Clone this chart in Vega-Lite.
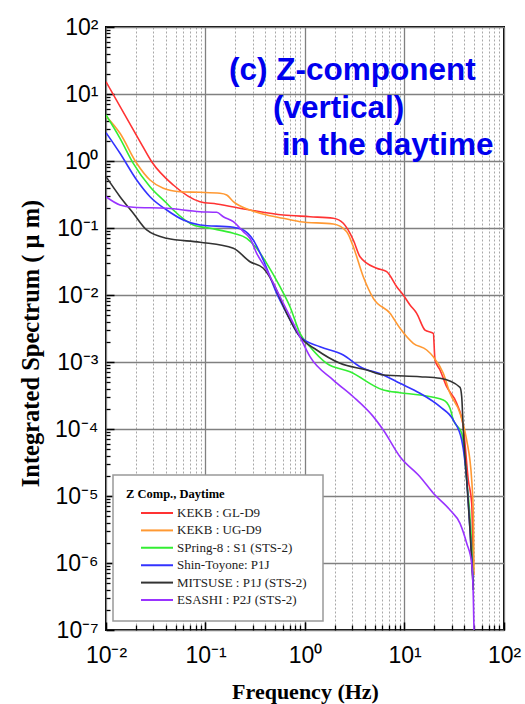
{
  "$schema": "https://vega.github.io/schema/vega-lite/v6.json",
  "width": 398,
  "height": 603,
  "autosize": {"type": "none"},
  "padding": {"left": 106, "top": 27, "right": 21, "bottom": 74},
  "background": "white",
  "config": {"view": {"stroke": "#000", "strokeWidth": 2}, "legend": {"strokeWidth": 1.5}},
  "resolve": {"axis": {"x": "independent", "y": "independent"}},
  "layer": [
    {
      "data": {"values": [
        {"s":"KEKB : GL-D9","f":0.01,"v":15.26},{"s":"KEKB : GL-D9","f":0.02197,"v":1.95},{"s":"KEKB : GL-D9","f":0.02878,"v":0.976},{"s":"KEKB : GL-D9","f":0.04747,"v":0.438},{"s":"KEKB : GL-D9","f":0.08806,"v":0.2469},{"s":"KEKB : GL-D9","f":0.1296,"v":0.2281},{"s":"KEKB : GL-D9","f":0.28,"v":0.1856},{"s":"KEKB : GL-D9","f":0.6052,"v":0.1563},{"s":"KEKB : GL-D9","f":1.123,"v":0.1475},{"s":"KEKB : GL-D9","f":1.925,"v":0.1396},{"s":"KEKB : GL-D9","f":2.426,"v":0.1175},{"s":"KEKB : GL-D9","f":3.058,"v":0.0662},{"s":"KEKB : GL-D9","f":3.572,"v":0.0373},{"s":"KEKB : GL-D9","f":5.256,"v":0.02503},{"s":"KEKB : GL-D9","f":6.624,"v":0.02227},{"s":"KEKB : GL-D9","f":8.35,"v":0.0133},{"s":"KEKB : GL-D9","f":9.725,"v":0.01},{"s":"KEKB : GL-D9","f":11.36,"v":0.0071},{"s":"KEKB : GL-D9","f":13.26,"v":0.00533},{"s":"KEKB : GL-D9","f":16.07,"v":0.003},{"s":"KEKB : GL-D9","f":19.48,"v":0.00268},{"s":"KEKB : GL-D9","f":20.26,"v":0.001071},{"s":"KEKB : GL-D9","f":22.74,"v":0.00076},{"s":"KEKB : GL-D9","f":26.55,"v":0.000428},{"s":"KEKB : GL-D9","f":33.47,"v":0.000242},{"s":"KEKB : GL-D9","f":38.99,"v":0.000108},{"s":"KEKB : GL-D9","f":43.77,"v":1.73e-5},{"s":"KEKB : GL-D9","f":47.35,"v":7.78e-6},{"s":"KEKB : GL-D9","f":49.14,"v":7.86e-7},

        {"s":"KEKB : UG-D9","f":0.01,"v":4.7},{"s":"KEKB : UG-D9","f":0.01383,"v":2.591},{"s":"KEKB : UG-D9","f":0.02034,"v":0.924},{"s":"KEKB : UG-D9","f":0.02768,"v":0.52},{"s":"KEKB : UG-D9","f":0.03767,"v":0.3914},{"s":"KEKB : UG-D9","f":0.05543,"v":0.348},{"s":"KEKB : UG-D9","f":0.08806,"v":0.341},{"s":"KEKB : UG-D9","f":0.1398,"v":0.3296},{"s":"KEKB : UG-D9","f":0.1633,"v":0.311},{"s":"KEKB : UG-D9","f":0.1903,"v":0.2469},{"s":"KEKB : UG-D9","f":0.28,"v":0.1856},{"s":"KEKB : UG-D9","f":0.4122,"v":0.1563},{"s":"KEKB : UG-D9","f":0.6052,"v":0.1396},{"s":"KEKB : UG-D9","f":0.8906,"v":0.1242},{"s":"KEKB : UG-D9","f":1.925,"v":0.1147},{"s":"KEKB : UG-D9","f":2.625,"v":0.0881},{"s":"KEKB : UG-D9","f":3.058,"v":0.0526},{"s":"KEKB : UG-D9","f":3.853,"v":0.01875},{"s":"KEKB : UG-D9","f":4.859,"v":0.00893},{"s":"KEKB : UG-D9","f":7.151,"v":0.00533},{"s":"KEKB : UG-D9","f":9.012,"v":0.00318},{"s":"KEKB : UG-D9","f":12.26,"v":0.0019},{"s":"KEKB : UG-D9","f":16.71,"v":0.00151},{"s":"KEKB : UG-D9","f":19.48,"v":0.0012},{"s":"KEKB : UG-D9","f":24.54,"v":0.000678},{"s":"KEKB : UG-D9","f":28.66,"v":0.000341},{"s":"KEKB : UG-D9","f":36.13,"v":0.000172},{"s":"KEKB : UG-D9","f":42.18,"v":6.85e-5},{"s":"KEKB : UG-D9","f":47.35,"v":1.73e-5},{"s":"KEKB : UG-D9","f":49.14,"v":5.52e-6},{"s":"KEKB : UG-D9","f":49.94,"v":6.62e-7},

        {"s":"SPring-8 : S1 (STS-2)","f":0.01,"v":4.86},{"s":"SPring-8 : S1 (STS-2)","f":0.01383,"v":2.182},{"s":"SPring-8 : S1 (STS-2)","f":0.0188,"v":0.924},{"s":"SPring-8 : S1 (STS-2)","f":0.02768,"v":0.4135},{"s":"SPring-8 : S1 (STS-2)","f":0.04074,"v":0.2337},{"s":"SPring-8 : S1 (STS-2)","f":0.04747,"v":0.1856},{"s":"SPring-8 : S1 (STS-2)","f":0.0754,"v":0.1109},{"s":"SPring-8 : S1 (STS-2)","f":0.111,"v":0.099},{"s":"SPring-8 : S1 (STS-2)","f":0.1903,"v":0.0834},{"s":"SPring-8 : S1 (STS-2)","f":0.2595,"v":0.0702},{"s":"SPring-8 : S1 (STS-2)","f":0.3269,"v":0.0498},{"s":"SPring-8 : S1 (STS-2)","f":0.4122,"v":0.0297},{"s":"SPring-8 : S1 (STS-2)","f":0.5607,"v":0.0133},{"s":"SPring-8 : S1 (STS-2)","f":0.7066,"v":0.00669},{"s":"SPring-8 : S1 (STS-2)","f":0.8906,"v":0.00268},{"s":"SPring-8 : S1 (STS-2)","f":1.123,"v":0.00169},{"s":"SPring-8 : S1 (STS-2)","f":1.652,"v":0.000956},{"s":"SPring-8 : S1 (STS-2)","f":2.834,"v":0.000716},{"s":"SPring-8 : S1 (STS-2)","f":6.123,"v":0.000382},{"s":"SPring-8 : S1 (STS-2)","f":9.012,"v":0.000348},{"s":"SPring-8 : S1 (STS-2)","f":14.31,"v":0.000322},{"s":"SPring-8 : S1 (STS-2)","f":24.54,"v":0.000271},{"s":"SPring-8 : S1 (STS-2)","f":28.66,"v":0.000204},{"s":"SPring-8 : S1 (STS-2)","f":30.94,"v":0.000136},{"s":"SPring-8 : S1 (STS-2)","f":37.58,"v":8.62e-5},{"s":"SPring-8 : S1 (STS-2)","f":42.18,"v":1.73e-5},{"s":"SPring-8 : S1 (STS-2)","f":47.35,"v":1.75e-6},{"s":"SPring-8 : S1 (STS-2)","f":49.14,"v":3.95e-7},

        {"s":"Shin-Toyone: P1J","f":0.01,"v":2.646},{"s":"Shin-Toyone: P1J","f":0.01383,"v":1.303},{"s":"Shin-Toyone: P1J","f":0.02034,"v":0.52},{"s":"Shin-Toyone: P1J","f":0.02768,"v":0.2932},{"s":"Shin-Toyone: P1J","f":0.04074,"v":0.1856},{"s":"Shin-Toyone: P1J","f":0.05984,"v":0.1317},{"s":"Shin-Toyone: P1J","f":0.08806,"v":0.1109},{"s":"Shin-Toyone: P1J","f":0.1903,"v":0.1024},{"s":"Shin-Toyone: P1J","f":0.2398,"v":0.0934},{"s":"Shin-Toyone: P1J","f":0.3022,"v":0.0662},{"s":"Shin-Toyone: P1J","f":0.3809,"v":0.0333},{"s":"Shin-Toyone: P1J","f":0.5195,"v":0.0106},{"s":"Shin-Toyone: P1J","f":0.6548,"v":0.00533},{"s":"Shin-Toyone: P1J","f":0.8906,"v":0.00238},{"s":"Shin-Toyone: P1J","f":1.415,"v":0.00169},{"s":"Shin-Toyone: P1J","f":2.426,"v":0.001273},{"s":"Shin-Toyone: P1J","f":3.572,"v":0.000851},{"s":"Shin-Toyone: P1J","f":6.123,"v":0.00064},{"s":"Shin-Toyone: P1J","f":9.012,"v":0.000481},{"s":"Shin-Toyone: P1J","f":14.31,"v":0.000341},{"s":"Shin-Toyone: P1J","f":22.74,"v":0.000215},{"s":"Shin-Toyone: P1J","f":30.94,"v":0.000136},{"s":"Shin-Toyone: P1J","f":37.58,"v":6.85e-5},{"s":"Shin-Toyone: P1J","f":42.18,"v":1.73e-5},{"s":"Shin-Toyone: P1J","f":45.53,"v":3.11e-6},{"s":"Shin-Toyone: P1J","f":49.14,"v":4.69e-7},

        {"s":"MITSUSE  : P1J (STS-2)","f":0.01,"v":0.583},{"s":"MITSUSE  : P1J (STS-2)","f":0.01383,"v":0.2932},{"s":"MITSUSE  : P1J (STS-2)","f":0.0188,"v":0.1658},{"s":"MITSUSE  : P1J (STS-2)","f":0.02565,"v":0.0934},{"s":"MITSUSE  : P1J (STS-2)","f":0.04074,"v":0.0702},{"s":"MITSUSE  : P1J (STS-2)","f":0.08806,"v":0.0614},{"s":"MITSUSE  : P1J (STS-2)","f":0.1903,"v":0.0498},{"s":"MITSUSE  : P1J (STS-2)","f":0.28,"v":0.0314},{"s":"MITSUSE  : P1J (STS-2)","f":0.3809,"v":0.02503},{"s":"MITSUSE  : P1J (STS-2)","f":0.4801,"v":0.01495},{"s":"MITSUSE  : P1J (STS-2)","f":0.6548,"v":0.00533},{"s":"MITSUSE  : P1J (STS-2)","f":0.8906,"v":0.00238},{"s":"MITSUSE  : P1J (STS-2)","f":1.311,"v":0.00151},{"s":"MITSUSE  : P1J (STS-2)","f":2.248,"v":0.000956},{"s":"MITSUSE  : P1J (STS-2)","f":4.17,"v":0.00076},{"s":"MITSUSE  : P1J (STS-2)","f":6.123,"v":0.00064},{"s":"MITSUSE  : P1J (STS-2)","f":14.31,"v":0.000603},{"s":"MITSUSE  : P1J (STS-2)","f":22.74,"v":0.000571},{"s":"MITSUSE  : P1J (STS-2)","f":36.13,"v":0.000419},{"s":"MITSUSE  : P1J (STS-2)","f":37.58,"v":0.000303},{"s":"MITSUSE  : P1J (STS-2)","f":38.99,"v":9.66e-5},{"s":"MITSUSE  : P1J (STS-2)","f":42.18,"v":1.73e-5},{"s":"MITSUSE  : P1J (STS-2)","f":45.53,"v":3.11e-6},{"s":"MITSUSE  : P1J (STS-2)","f":49.14,"v":3.95e-7},

        {"s":"ESASHI : P2J (STS-2)","f":0.01,"v":0.2932},{"s":"ESASHI : P2J (STS-2)","f":0.01383,"v":0.2204},{"s":"ESASHI : P2J (STS-2)","f":0.0188,"v":0.2037},{"s":"ESASHI : P2J (STS-2)","f":0.04074,"v":0.1968},{"s":"ESASHI : P2J (STS-2)","f":0.08806,"v":0.1751},{"s":"ESASHI : P2J (STS-2)","f":0.1296,"v":0.1715},{"s":"ESASHI : P2J (STS-2)","f":0.151,"v":0.1475},{"s":"ESASHI : P2J (STS-2)","f":0.1903,"v":0.1242},{"s":"ESASHI : P2J (STS-2)","f":0.2398,"v":0.0881},{"s":"ESASHI : P2J (STS-2)","f":0.28,"v":0.0702},{"s":"ESASHI : P2J (STS-2)","f":0.3269,"v":0.0419},{"s":"ESASHI : P2J (STS-2)","f":0.4122,"v":0.0236},{"s":"ESASHI : P2J (STS-2)","f":0.5195,"v":0.01187},{"s":"ESASHI : P2J (STS-2)","f":0.6548,"v":0.00597},{"s":"ESASHI : P2J (STS-2)","f":0.8906,"v":0.00238},{"s":"ESASHI : P2J (STS-2)","f":1.123,"v":0.0012},{"s":"ESASHI : P2J (STS-2)","f":1.925,"v":0.000538},{"s":"ESASHI : P2J (STS-2)","f":3.058,"v":0.000303},{"s":"ESASHI : P2J (STS-2)","f":4.859,"v":0.000153},{"s":"ESASHI : P2J (STS-2)","f":6.123,"v":9.66e-5},{"s":"ESASHI : P2J (STS-2)","f":9.012,"v":3.86e-5},{"s":"ESASHI : P2J (STS-2)","f":14.31,"v":1.94e-5},{"s":"ESASHI : P2J (STS-2)","f":19.48,"v":1.1e-5},{"s":"ESASHI : P2J (STS-2)","f":28.66,"v":6.18e-6},{"s":"ESASHI : P2J (STS-2)","f":36.13,"v":3.91e-6},{"s":"ESASHI : P2J (STS-2)","f":42.18,"v":1.97e-6},{"s":"ESASHI : P2J (STS-2)","f":47.35,"v":9.9e-7},{"s":"ESASHI : P2J (STS-2)","f":49.14,"v":3.13e-7},{"s":"ESASHI : P2J (STS-2)","f":49.94,"v":1e-7}
      ]},
      "mark": {"type": "line", "strokeWidth": 1.6, "clip": true, "interpolate": "monotone"},
      "encoding": {
        "x": {
          "field": "f", "type": "quantitative",
          "scale": {"type": "log", "domain": [0.01, 100], "nice": false},
          "axis": {
            "values": [0.01, 0.1, 1, 10, 100],
            "labelExpr": "datum.value > 50 ? '10²' : datum.value > 5 ? '10¹' : datum.value > 0.5 ? '10⁰' : datum.value > 0.05 ? '10⁻¹' : '10⁻²'",
            "labelFont": "Liberation Sans", "labelFontSize": 23, "labelColor": "#000",
            "labelFlush": false, "labelOverlap": false, "labelBound": false, "labelPadding": 22,
            "grid": true, "gridColor": "#808080", "gridWidth": 1.3,
            "domain": false, "ticks": true, "tickSize": -8, "tickColor": "#000", "tickWidth": 1.5,
            "title": "Frequency (Hz)", "titleFont": "Liberation Serif", "titleFontWeight": "bold",
            "titleFontSize": 22, "titleColor": "#000", "titleY": 61, "titleBaseline": "middle"
          }
        },
        "y": {
          "field": "v", "type": "quantitative",
          "scale": {"type": "log", "domain": [1e-7, 100], "nice": false},
          "axis": {
            "values": [1e-7, 1e-6, 1e-5, 0.0001, 0.001, 0.01, 0.1, 1, 10, 100],
            "labelExpr": "datum.value > 50 ? '10²' : datum.value > 5 ? '10¹' : datum.value > 0.5 ? '10⁰' : datum.value > 0.05 ? '10⁻¹' : datum.value > 0.005 ? '10⁻²' : datum.value > 0.0005 ? '10⁻³' : datum.value > 0.00005 ? '10⁻⁴' : datum.value > 0.000005 ? '10⁻⁵' : datum.value > 0.0000005 ? '10⁻⁶' : '10⁻⁷'",
            "labelFont": "Liberation Sans", "labelFontSize": 23, "labelColor": "#000",
            "labelFlush": false, "labelOverlap": false, "labelBound": false, "labelPadding": 16,
            "grid": true, "gridColor": "#808080", "gridWidth": 1.3,
            "domain": false, "ticks": true, "tickSize": -8, "tickColor": "#000", "tickWidth": 1.5,
            "title": "Integrated  Spectrum ( μ m)", "titleFont": "Liberation Serif", "titleFontWeight": "bold",
            "titleFontSize": 24.5, "titleColor": "#000", "titleX": -75, "titleY": 316,
            "titleAngle": -90, "titleAlign": "center", "titleBaseline": "middle"
          }
        },
        "color": {
          "field": "s", "type": "nominal",
          "scale": {
            "domain": ["KEKB : GL-D9", "KEKB : UG-D9", "SPring-8 : S1 (STS-2)", "Shin-Toyone: P1J", "MITSUSE  : P1J (STS-2)", "ESASHI : P2J (STS-2)"],
            "range": ["#ff3333", "#ff9933", "#33ee33", "#3333ff", "#333333", "#9933ff"]
          },
          "legend": {
            "orient": "none", "legendX": 7, "legendY": 448,
            "title": "Z Comp., Daytime", "titleFont": "Liberation Serif", "titleFontWeight": "bold",
            "titleFontSize": 12.5, "titleColor": "#000", "titlePadding": 5,
            "labelFont": "Liberation Serif", "labelFontSize": 13, "labelColor": "#222",
            "symbolType": "stroke", "symbolSize": 1024, "symbolStrokeWidth": 2,
            "clipHeight": 15, "rowPadding": 2.4, "symbolOffset": 14, "labelOffset": 3,
            "padding": 13, "strokeColor": "#999", "fillColor": "#fff"
          }
        }
      }
    },
    {
      "data": {"values": [
        {"f": 0.172, "v": 16.2, "t": "(c) Z-component"},
        {"f": 0.477, "v": 4.39, "t": "(vertical)"},
        {"f": 0.583, "v": 1.23, "t": "in the daytime"}
      ]},
      "mark": {"type": "text", "align": "left", "baseline": "alphabetic", "font": "Liberation Sans", "fontWeight": "bold", "fontSize": 31.5, "color": "#0000ee"},
      "encoding": {
        "x": {
          "field": "f", "type": "quantitative",
          "scale": {"type": "log", "domain": [0.01, 100], "nice": false},
          "axis": {
            "orient": "bottom",
            "values": [0.02,0.03,0.04,0.05,0.06,0.07,0.08,0.09,0.2,0.3,0.4,0.5,0.6,0.7,0.8,0.9,2,3,4,5,6,7,8,9,20,30,40,50,60,70,80,90],
            "labels": false, "domain": false, "title": null,
            "grid": true, "gridColor": "#a8a8a8", "gridDash": [2, 2], "gridWidth": 1,
            "ticks": true, "tickSize": -5, "tickColor": "#000", "tickWidth": 1.3
          }
        },
        "y": {
          "field": "v", "type": "quantitative",
          "scale": {"type": "log", "domain": [1e-7, 100], "nice": false},
          "axis": {
            "orient": "left",
            "values": [2e-7,3e-7,4e-7,5e-7,6e-7,7e-7,8e-7,9e-7,2e-6,3e-6,4e-6,5e-6,6e-6,7e-6,8e-6,9e-6,2e-5,3e-5,4e-5,5e-5,6e-5,7e-5,8e-5,9e-5,0.0002,0.0003,0.0004,0.0005,0.0006,0.0007,0.0008,0.0009,0.002,0.003,0.004,0.005,0.006,0.007,0.008,0.009,0.02,0.03,0.04,0.05,0.06,0.07,0.08,0.09,0.2,0.3,0.4,0.5,0.6,0.7,0.8,0.9,2,3,4,5,6,7,8,9,20,30,40,50,60,70,80,90],
            "labels": false, "domain": false, "title": null, "grid": false,
            "ticks": true, "tickSize": -4, "tickColor": "#000", "tickWidth": 1.3
          }
        },
        "text": {"field": "t", "type": "nominal"}
      }
    }
  ]
}
